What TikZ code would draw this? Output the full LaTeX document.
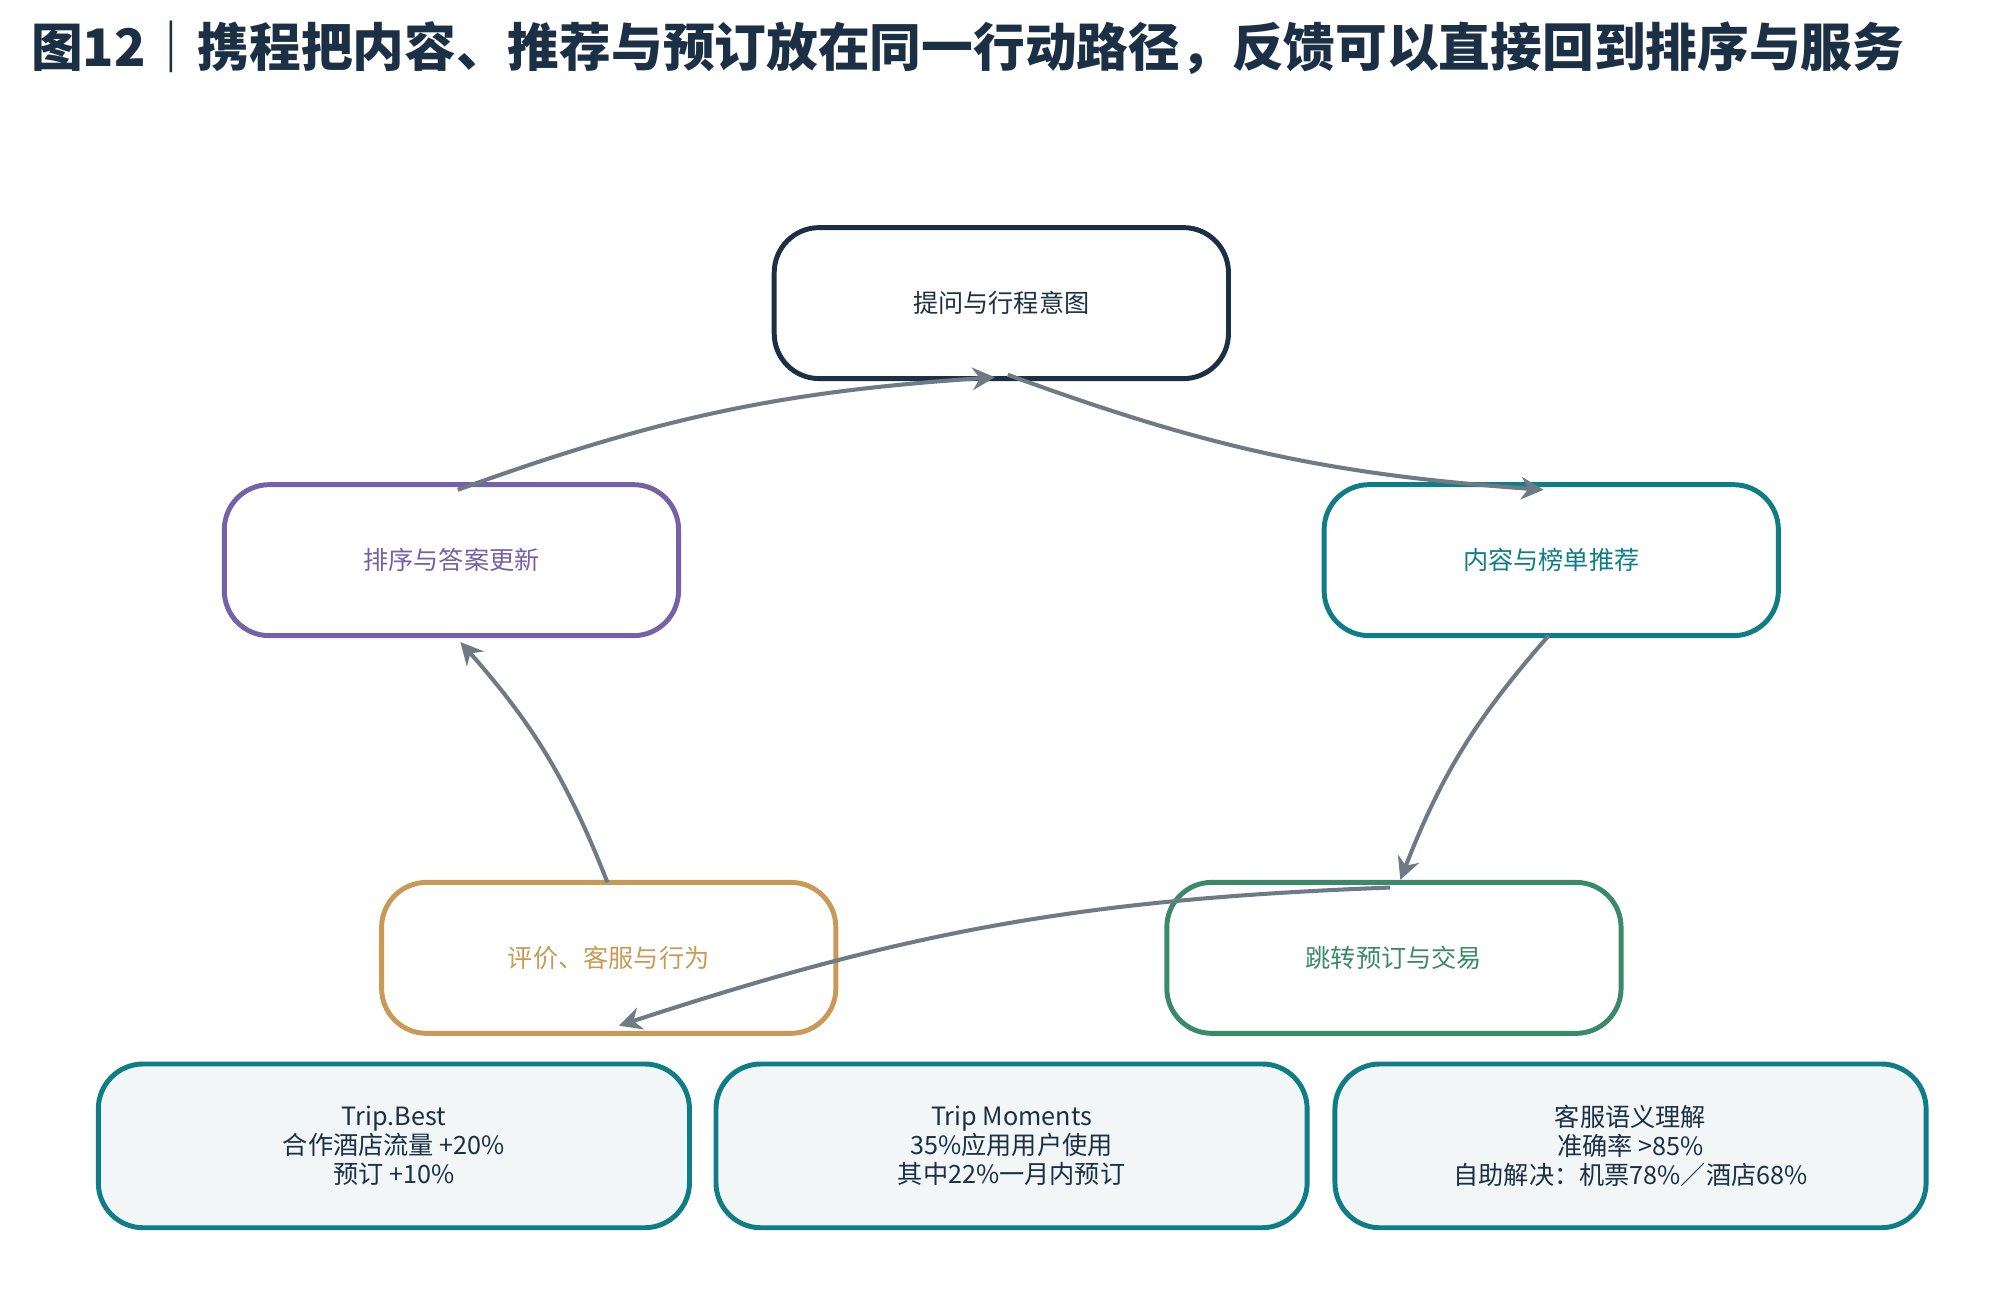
\documentclass[tikz,border=0pt]{standalone}
\usepackage{fontspec}
\setmainfont{Noto Sans CJK SC}
\usepackage{xcolor}
\usetikzlibrary{arrows.meta}
\definecolor{navy}{HTML}{1B2F45}
\definecolor{purp}{HTML}{7461A8}
\definecolor{teal2}{HTML}{0F7D86}
\definecolor{gold}{HTML}{C89A55}
\definecolor{green2}{HTML}{3A8A68}
\definecolor{arrowgray}{HTML}{6E7A84}
\definecolor{panel}{HTML}{F2F6F7}
\begin{document}
\begin{tikzpicture}[x=0.01cm,y=-0.01cm]
\tikzstyle{stage} = [rectangle, draw, line width=1.1pt, rounded corners=10pt,
minimum width=3.55cm, minimum height=1.18cm, font=\fontsize{5.6}{7}\selectfont]
\tikzstyle{fact} = [rectangle, draw=teal2, line width=1.1pt, fill=panel, rounded corners=10pt,
minimum width=4.62cm, minimum height=1.28cm, align=center, font=\fontsize{5.6}{6.4}\selectfont, text=navy]
\tikzstyle{line} = [draw=arrowgray, line width=0.9pt, -{Stealth[length=5pt,width=5pt]}]
\useasboundingbox (0,0) rectangle (1560,1017);
\node[anchor=west, text=navy, font=\fontsize{11.5}{13}\selectfont\bfseries] (title) at (12,37)
 {图12｜携程把内容、推荐与预订放在同一行动路径，反馈可以直接回到排序与服务};
% cycle
\node [stage, draw=navy, text=navy] (ask) at (783,237) {提问与行程意图};
\node [stage, draw=purp, text=purp] (rank) at (353,438) {排序与答案更新};
\node [stage, draw=teal2, text=teal2] (recommend) at (1213,438) {内容与榜单推荐};
\node [stage, draw=gold, text=gold] (review) at (476,749) {评价、客服与行为};
\node [stage, draw=green2, text=green2] (book) at (1090,749) {跳转预订与交易};
% facts
\node [fact] (best) at (308,896) {Trip.Best\\合作酒店流量 +20\%\\预订 +10\%};
\node [fact] (moments) at (791,896) {Trip Moments\\35\%应用用户使用\\其中22\%一月内预订};
\node [fact] (service) at (1275,896) {客服语义理解\\准确率 >85\%\\自助解决：机票78\%／酒店68\%};
\coordinate (a1) at (358,383); \coordinate (a2) at (778,295);
\coordinate (b1) at (788,293); \coordinate (b2) at (1207,383);
\coordinate (c1) at (1211,497); \coordinate (c2) at (1095,688);
\coordinate (d1) at (1087,694); \coordinate (d2) at (484,802);
\coordinate (e1) at (475,690); \coordinate (e2) at (360,502);
\path [line] (a1) to[bend left=8] (a2);
\path [line] (b1) to[bend right=8] (b2);
\path [line] (c1) to[bend right=10] (c2);
\path [line] (d1) to[bend right=8] (d2);
\path [line] (e1) to[bend right=10] (e2);
\end{tikzpicture}
\end{document}
